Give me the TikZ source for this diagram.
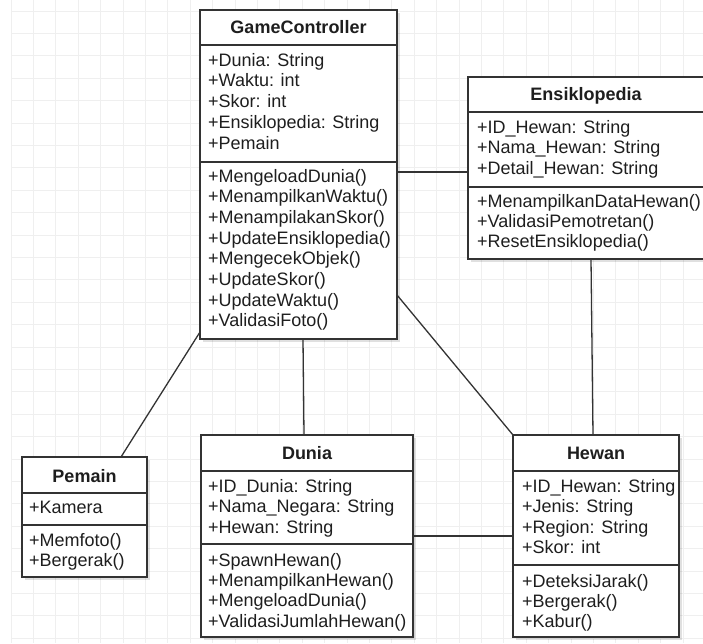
\documentclass[tikz,border=0pt]{standalone}
\usepackage{fontspec}
\setmainfont{Liberation Sans}
\usetikzlibrary{shadows}
\definecolor{linec}{HTML}{333333}
\definecolor{textc}{HTML}{1E1E1E}
\definecolor{gridc}{HTML}{EFEFEF}
\begin{document}
\begin{tikzpicture}[x=1pt,y=-1pt,
  cls/.style={draw=linec, line width=1.3pt, fill=white, inner sep=0pt, outer sep=0pt, anchor=north west,
    drop shadow={shadow xshift=3pt, shadow yshift=-3pt, opacity=0.12, fill=black}},
  sepline/.style={draw=linec, line width=1.3pt},
  conn/.style={draw=linec, line width=1.3pt},
  txt/.style={text=textc, inner sep=0pt, anchor=base west, font=\fontsize{18}{21}\selectfont},
  hdr/.style={text=textc, inner sep=0pt, anchor=base, font=\fontsize{18}{21}\selectfont\bfseries},
  gridline/.style={draw=gridc, line width=0.9pt}]
\clip (0,0) rectangle (703,643);
\fill[white] (0,0) rectangle (703,643);
% grid
\foreach \i in {0,...,31} \draw[gridline] ({11+22.4*\i},0) -- ({11+22.4*\i},643);
\foreach \i in {0,...,28} \draw[gridline] (11,{11+22.4*\i}) -- (703,{11+22.4*\i});

% GameController
\node[cls, minimum width=197pt, minimum height=329pt] (gc) at (200,10) {};
\draw[sepline] (gc.west |- 0,45) -- (gc.east |- 0,45);
\draw[sepline] (gc.west |- 0,162) -- (gc.east |- 0,162);
\node[hdr] (gch) at (298.5,33) {GameController};
\foreach \t [count=\i from 0] in {+Dunia: String,+Waktu: int,+Skor: int,+Ensiklopedia: String,+Pemain}
  \node[txt] (gca\i) at (208,{66+20.8*\i}) {\t};
\foreach \t [count=\i from 0] in {+MengeloadDunia(),+MenampilkanWaktu(),+MenampilakanSkor(),+UpdateEnsiklopedia(),+MengecekObjek(),+UpdateSkor(),+UpdateWaktu(),+ValidasiFoto()}
  \node[txt] (gcm\i) at (208,{182+20.7*\i}) {\t};

% Ensiklopedia
\node[cls, minimum width=238pt, minimum height=182pt] (ens) at (468,77) {};
\draw[sepline] (ens.west |- 0,112) -- (ens.east |- 0,112);
\draw[sepline] (ens.west |- 0,187) -- (ens.east |- 0,187);
\node[hdr] (ensh) at (586,100) {Ensiklopedia};
\foreach \t [count=\i from 0] in {+ID\_Hewan: String,+Nama\_Hewan: String,+Detail\_Hewan: String}
  \node[txt] (ensa\i) at (477,{133+20.5*\i}) {\t};
\foreach \t [count=\i from 0] in {+MenampilkanDataHewan(),+ValidasiPemotretan(),+ResetEnsiklopedia()}
  \node[txt] (ensm\i) at (477,{207+20.3*\i}) {\t};

% Pemain
\node[cls, minimum width=125pt, minimum height=120pt] (pem) at (22,457) {};
\draw[sepline] (pem.west |- 0,493) -- (pem.east |- 0,493);
\draw[sepline] (pem.west |- 0,525) -- (pem.east |- 0,525);
\node[hdr] (pemh) at (84.5,482) {Pemain};
\node[txt] (pema0) at (29,513) {+Kamera};
\node[txt] (pemm0) at (29,546) {+Memfoto()};
\node[txt] (pemm1) at (29,566.5) {+Bergerak()};

% Dunia
\node[cls, minimum width=212pt, minimum height=202pt] (dun) at (201,435) {};
\draw[sepline] (dun.west |- 0,471) -- (dun.east |- 0,471);
\draw[sepline] (dun.west |- 0,544) -- (dun.east |- 0,544);
\node[hdr] (dunh) at (307,459) {Dunia};
\foreach \t [count=\i from 0] in {+ID\_Dunia: String,+Nama\_Negara: String,+Hewan: String}
  \node[txt] (duna\i) at (208,{492+20.6*\i}) {\t};
\foreach \t [count=\i from 0] in {+SpawnHewan(),+MenampilkanHewan(),+MengeloadDunia(),+ValidasiJumlahHewan()}
  \node[txt] (dunm\i) at (208,{566+20.4*\i}) {\t};

% Hewan
\node[cls, minimum width=166pt, minimum height=202pt] (hew) at (513,435) {};
\draw[sepline] (hew.west |- 0,471) -- (hew.east |- 0,471);
\draw[sepline] (hew.west |- 0,565) -- (hew.east |- 0,565);
\node[hdr] (hewh) at (596,459) {Hewan};
\foreach \t [count=\i from 0] in {+ID\_Hewan: String,+Jenis: String,+Region: String,+Skor: int}
  \node[txt] (hewa\i) at (522,{492+20.5*\i}) {\t};
\foreach \t [count=\i from 0] in {+DeteksiJarak(),+Bergerak(),+Kabur()}
  \node[txt] (hewm\i) at (522,{587+20.2*\i}) {\t};

% connectors
\draw[conn] (gc.east |- 0,172) -- (ens.west |- 0,172);
\draw[conn] (gc.west |- 0,332) -- (121,0 |- pem.north);
\draw[conn] (303,0 |- gc.south) -- (304,0 |- dun.north);
\draw[conn] (gc.east |- 0,295) -- (hew.north west);
\draw[conn] (591,0 |- ens.south) -- (593,0 |- hew.north);
\draw[conn] (dun.east |- 0,536) -- (hew.west |- 0,536);
\end{tikzpicture}
\end{document}
